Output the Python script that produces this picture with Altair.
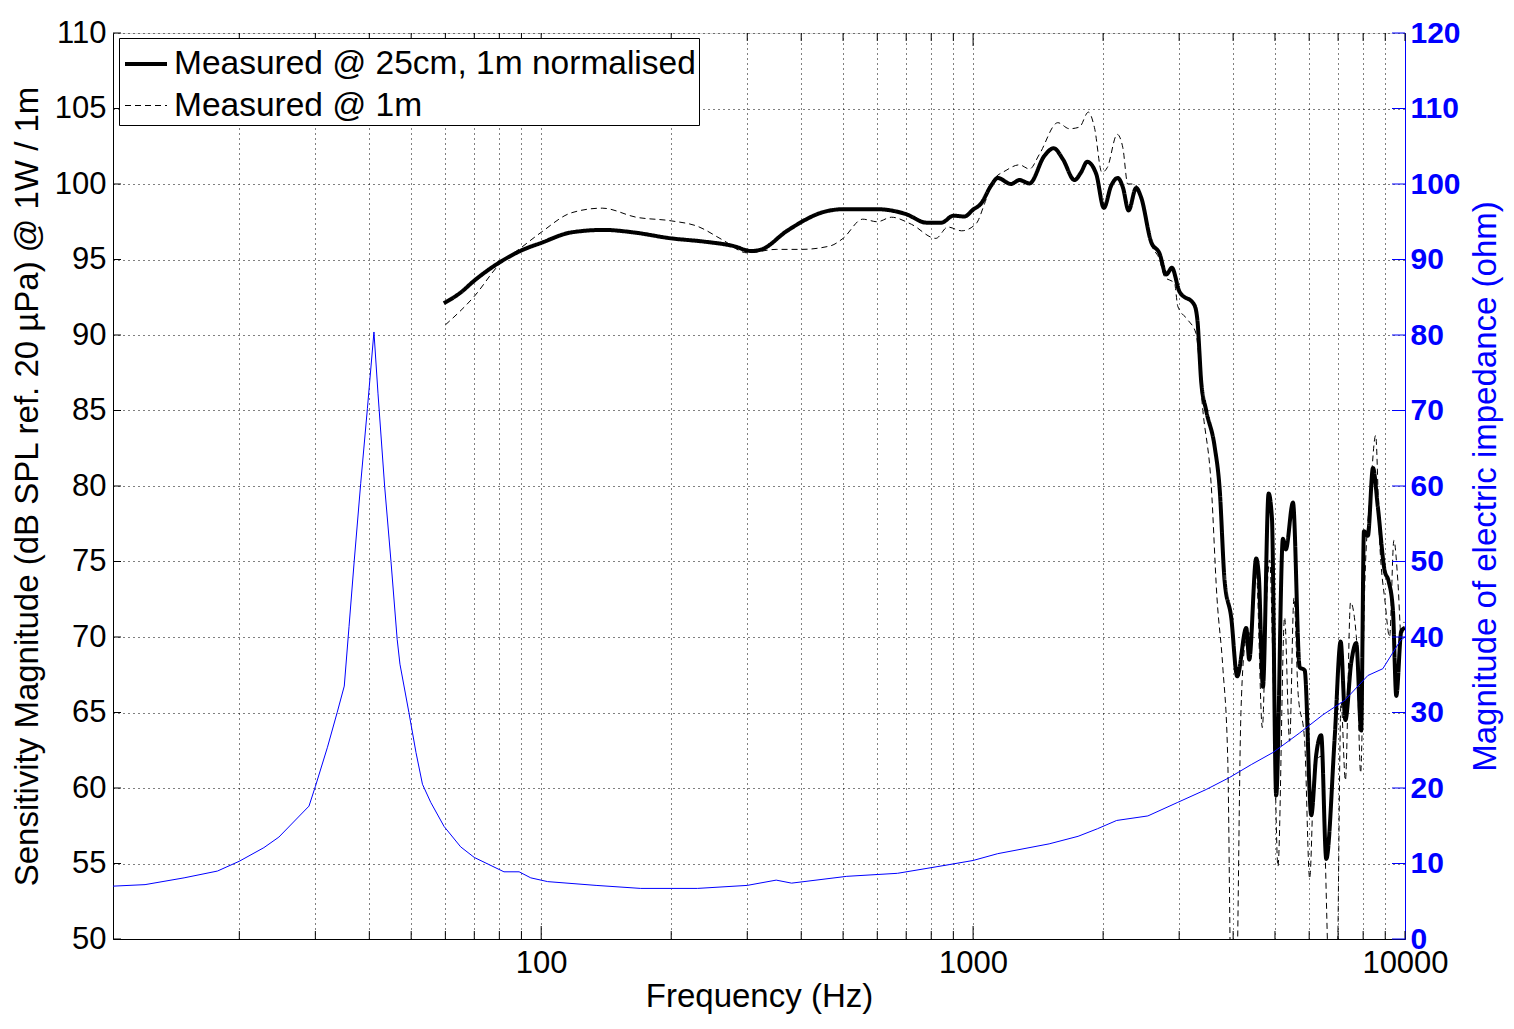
import altair as alt
import pandas as pd

# ---------------- data ----------------
SERIES = ["Measured @ 25cm, 1m normalised", "Measured @ 1m"]

freq_solid = [59.5, 65, 70, 80, 90, 100, 117.7, 139.8, 163, 200, 239, 278, 306.6, 324, 371,
              458, 500, 600, 700, 780, 845, 900, 955, 1000, 1043, 1101, 1140, 1224, 1280, 1351,
              1462, 1537, 1614, 1717, 1778, 1837, 1928, 2008, 2088, 2163, 2222, 2291, 2385, 2449,
              2584, 2702, 2800, 2886, 3005, 3253, 3311, 3340, 3374, 3465, 3625, 3723, 3823, 3959,
              4088, 4290, 4359, 4523, 4588, 4689, 4833, 4919, 5032, 5216, 5297, 5503, 5704, 5857,
              6067, 6230, 6397, 6572, 6873, 7096, 7278, 7507, 7712, 7916, 8035, 8204, 8430, 8653,
              8971, 9163, 9376, 9546, 9806, 10000]
spl_solid = [92.1, 92.8, 93.6, 94.8, 95.6, 96.1, 96.8, 96.96, 96.8, 96.4, 96.18, 95.9, 95.56, 95.67, 96.9,
             98.2, 98.33, 98.33, 98.0, 97.44, 97.44, 97.9, 97.85, 98.3, 98.7, 99.9, 100.4, 100.0, 100.26, 100.04,
             101.86, 102.37, 101.64, 100.26, 100.77, 101.47, 100.66, 98.42, 99.89, 100.4, 99.78, 98.25, 99.74, 99.12,
             96.16, 95.4, 94.0, 94.45, 92.87, 91.99, 90.8, 89.0, 86.9, 85.0, 82.6, 79.8, 73.7, 71.3,
             67.4, 70.6, 68.5, 75.2, 74.0, 66.7, 79.5, 77.9, 59.5, 76.5, 75.8, 78.9, 68.0, 67.8,
             58.2, 62.2, 63.5, 55.3, 63.3, 69.7, 64.5, 68.3, 69.6, 63.8, 77.0, 76.7, 81.2, 78.6,
             74.4, 73.7, 71.8, 66.1, 70.4, 70.6]

freq_dashed = [60, 70, 80, 90, 100, 117.7, 138.5, 166, 200, 230, 263, 300, 350, 400, 467, 500,
               555, 600, 647, 720, 820, 874, 940, 1016, 1063, 1110, 1192, 1280, 1351, 1424, 1571,
               1671, 1763, 1849, 1910, 1987, 2046, 2156, 2222, 2281, 2364, 2449, 2584, 2702, 2775,
               2927, 2978, 3142, 3282, 3404, 3560, 3668, 3786, 3887, 3969, 4054, 4170, 4273, 4388,
               4523, 4674, 4771, 4860, 4967, 5080, 5263, 5405, 5533, 5652, 5857, 6016, 6174, 6397,
               6748, 6931, 7112, 7278, 7480, 7712, 7894, 8065, 8328, 8551, 8736, 8994, 9210, 9425,
               9627, 9806, 9950]
spl_dashed = [90.67, 92.56, 94.67, 95.8, 96.8, 98.1, 98.4, 97.8, 97.56, 97.2, 96.3, 95.44, 95.67, 95.67, 95.9, 96.4,
              97.67, 97.5, 97.8, 97.33, 96.4, 97.15, 96.9, 97.37, 98.7, 100.2, 100.9, 101.27, 100.99, 101.97, 104.06,
              103.66, 103.77, 104.76, 103.73, 100.77, 101.1, 103.29, 102.4, 100.0, 100.0, 99.0, 96.0, 95.0, 93.86,
              93.42, 91.9, 91.0, 90.1, 85.0, 80.0, 72.7, 68.0, 61.9, 44.0, 44.0, 65.0, 69.7, 70.4,
              74.4, 64.0, 71.8, 75.1, 65.7, 54.8, 71.3, 63.1, 72.6, 66.4, 63.1, 54.0, 61.6, 62.1,
              44.0, 44.0, 65.7, 60.5, 72.3, 70.1, 61.0, 73.2, 79.8, 83.35, 76.3, 72.3, 70.0, 76.4,
              73.7, 69.9, 71.0]

freq_imp = [10.2, 12.1, 14.9, 17.8, 20, 22.8, 24.7, 29.0, 30, 32, 33.7, 35, 35.9, 36.9, 38.2, 39.6,
            41.0, 41.9, 43.4, 44.9, 46.4, 47.1, 49.4, 51.3, 53.1, 55.5, 59.6, 65.1, 70, 82, 88.9,
            94.6, 103.5, 134, 170, 230, 300, 350, 380, 510, 668, 870, 1000, 1140, 1500, 1750, 1940,
            2150, 2539, 2978, 3465, 3926, 4406, 4946, 5704, 6458, 7248, 8204, 8885, 9775, 10000]
imp_ohm = [7.0, 7.2, 8.1, 9.0, 10.3, 12.1, 13.5, 17.6, 20.2, 25.4, 30, 33.5, 41.4, 50, 60.3, 70.3,
           80.4, 72.2, 60, 50, 39.7, 36.4, 30, 24.7, 20.5, 18.1, 14.9, 12.2, 10.8, 8.9, 8.9,
           8.1, 7.6, 7.1, 6.7, 6.7, 7.1, 7.8, 7.4, 8.3, 8.7, 9.8, 10.4, 11.3, 12.6, 13.6, 14.6,
           15.7, 16.3, 18.1, 19.8, 21.4, 23.1, 24.7, 27.3, 29.7, 31.6, 34.9, 35.8, 39.6, 40.0]

x_grid_values = [20, 30, 40, 50, 60, 70, 80, 90, 100, 200, 300, 400, 500, 600, 700, 800, 900,
                 1000, 2000, 3000, 4000, 5000, 6000, 7000, 8000, 9000, 10000]
x_major_values = [100, 1000]
left_tick_values = [50, 55, 60, 65, 70, 75, 80, 85, 90, 95, 100, 105, 110]
right_tick_values = [0, 10, 20, 30, 40, 50, 60, 70, 80, 90, 100, 110, 120]

# ---------------- tables ----------------
spl_df = pd.concat([
    pd.DataFrame({"freq": freq_solid, "spl": spl_solid, "series": SERIES[0]}),
    pd.DataFrame({"freq": freq_dashed, "spl": spl_dashed, "series": SERIES[1]}),
], ignore_index=True)
imp_df = pd.DataFrame({"freq": freq_imp, "ohm": imp_ohm})
xminor_df = pd.DataFrame({"freq": [v for v in x_grid_values if v not in x_major_values]})
xmajor_df = pd.DataFrame({"freq": x_major_values})
lt_df = pd.DataFrame({"spl": left_tick_values})
rt_df = pd.DataFrame({"ohm": right_tick_values})

W, H = 1292, 906
FONT = "Liberation Sans"
BLUE = "#0000ff"

x_scale = alt.Scale(type="log", domain=[10.2, 10000], nice=False)
y_left = alt.Scale(domain=[50, 110], nice=False, zero=False)
y_right = alt.Scale(domain=[0, 120], nice=False, zero=False)

x_axis = alt.Axis(
    values=x_grid_values, format="d",
    labelExpr="(datum.value == 100 || datum.value == 1000 || datum.value == 10000) ? datum.label : ''",
    grid=True, gridColor="black", gridDash=[1, 4], gridWidth=1, gridOpacity=1,
    ticks=False, domainColor="black", domainWidth=1,
    labelFont=FONT, labelFontSize=31, labelColor="black", labelPadding=9,
    labelOverlap=False, labelFlush=False,
    title="Frequency (Hz)", titleFont=FONT, titleFontSize=33, titleFontWeight="normal",
    titleColor="black", titleY=67, titleBaseline="alphabetic",
)
left_axis = alt.Axis(
    values=left_tick_values, format="d", orient="left",
    grid=True, gridColor="black", gridDash=[1, 4], gridWidth=1, gridOpacity=1,
    ticks=False, domainColor="black", domainWidth=1,
    labelFont=FONT, labelFontSize=31, labelColor="black", labelPadding=7,
    labelOverlap=False, labelFlush=False,
    title="Sensitivity Magnitude (dB SPL ref. 20 µPa) @ 1W / 1m",
    titleFont=FONT, titleFontSize=33, titleFontWeight="normal", titleColor="black",
    titleAngle=270, titleX=-86, titleY=H / 2, titleAlign="center", titleBaseline="middle",
)
right_axis = alt.Axis(
    values=right_tick_values, format="d", orient="right",
    grid=False, ticks=False, domainColor=BLUE, domainWidth=1,
    labelFont=FONT, labelFontSize=30, labelFontWeight="bold", labelColor=BLUE, labelPadding=5,
    labelOverlap=False, labelFlush=False,
    title="Magnitude of electric impedance (ohm)",
    titleFont=FONT, titleFontSize=33, titleFontWeight="normal", titleColor=BLUE,
    titleAngle=270, titleX=80, titleY=H / 2, titleAlign="center", titleBaseline="middle",
)

legend_kw = dict(
    title=None, orient="none", legendX=6, legendY=5,
    symbolType="stroke", symbolSize=1764, symbolStrokeColor="black", symbolOffset=1,
    labelFont=FONT, labelFontSize=33.5, labelColor="black", labelLimit=0, labelOffset=5,
    rowPadding=3, padding=3, fillColor="white", strokeColor="black", cornerRadius=0,
)

X = alt.X("freq:Q", scale=x_scale, axis=x_axis)

spl_lines = alt.Chart(spl_df).mark_line(clip=True, color="black", interpolate="monotone").encode(
    x=X,
    y=alt.Y("spl:Q", scale=y_left, axis=left_axis),
    strokeWidth=alt.StrokeWidth("series:N", scale=alt.Scale(domain=SERIES, range=[4, 1]),
                                legend=alt.Legend(**legend_kw)),
    strokeDash=alt.StrokeDash("series:N", scale=alt.Scale(domain=SERIES, range=[[1, 0], [6, 4]]),
                              legend=alt.Legend(**legend_kw)),
    order=alt.Order("freq:Q"),
)

x_minor_bottom = alt.Chart(xminor_df).mark_rule(color="black", strokeWidth=1).encode(
    x=X, y=alt.value(H), y2=alt.value(H - 8))
x_minor_top = alt.Chart(xminor_df).mark_rule(color="black", strokeWidth=1).encode(
    x=X, y=alt.value(0), y2=alt.value(8))
x_major_bottom = alt.Chart(xmajor_df).mark_rule(color="black", strokeWidth=1).encode(
    x=X, y=alt.value(H), y2=alt.value(H - 13))
x_major_top = alt.Chart(xmajor_df).mark_rule(color="black", strokeWidth=1).encode(
    x=X, y=alt.value(0), y2=alt.value(13))
left_ticks = alt.Chart(lt_df).mark_rule(color="black", strokeWidth=1).encode(
    y=alt.Y("spl:Q", scale=y_left, axis=left_axis), x=alt.value(0), x2=alt.value(8))

left_group = alt.layer(x_minor_bottom, x_minor_top, x_major_bottom, x_major_top, left_ticks, spl_lines)

imp_line = alt.Chart(imp_df).mark_line(clip=True, color=BLUE, strokeWidth=1).encode(
    x=X, y=alt.Y("ohm:Q", scale=y_right, axis=right_axis), order=alt.Order("freq:Q"))
right_ticks = alt.Chart(rt_df).mark_rule(color=BLUE, strokeWidth=1).encode(
    y=alt.Y("ohm:Q", scale=y_right, axis=right_axis), x=alt.value(W - 13), x2=alt.value(W))

right_group = alt.layer(right_ticks, imp_line)

chart = alt.layer(left_group, right_group).resolve_scale(y="independent").properties(
    width=W, height=H,
    autosize=alt.AutoSizeParams(type="none"),
    padding={"left": 105, "top": 25, "right": 101, "bottom": 82},
    background="white",
).configure_view(stroke="black", strokeWidth=1).configure(font=FONT)

chart.save("out.html", embed_options={"renderer": "svg", "actions": False})
